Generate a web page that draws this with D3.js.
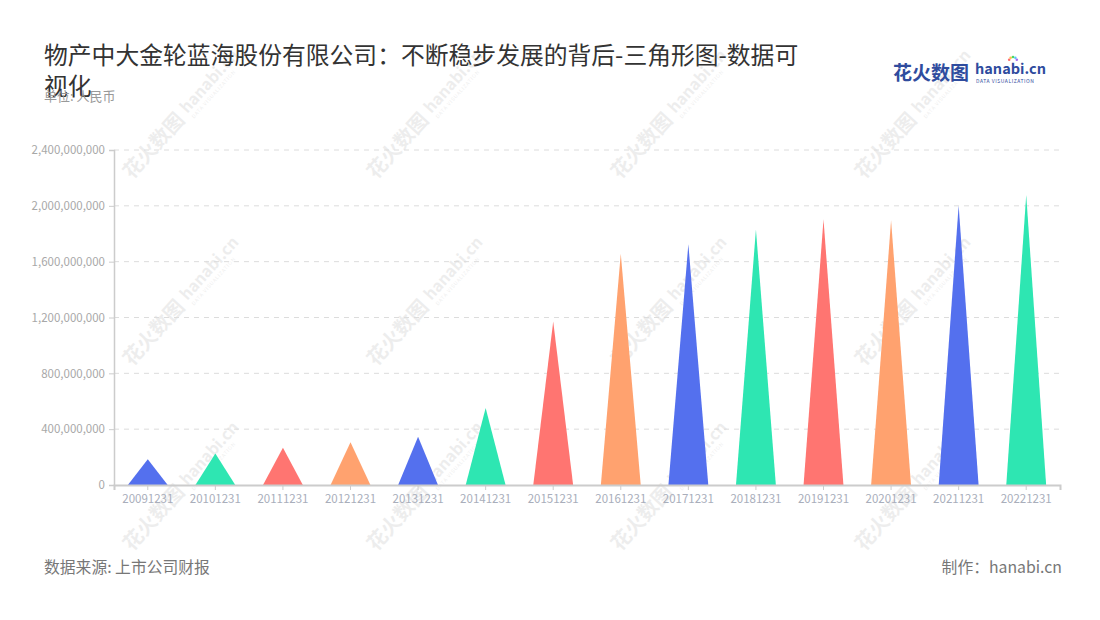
<!DOCTYPE html>
<html>
<head>
<meta charset="utf-8">
<script src="https://cdn.jsdelivr.net/npm/d3@7"></script>
<style>
  body { margin: 0; background: #fff; }
  svg text { font-family: "Noto Sans CJK SC", "Noto Sans", sans-serif; }
</style>
</head>
<body>
<div id="chart"></div>
<script>
// data
var dates = ["20091231", "20101231", "20111231", "20121231", "20131231", "20141231", "20151231",
             "20161231", "20171231", "20181231", "20191231", "20201231", "20211231", "20221231"];
var values = [184e6, 226e6, 267e6, 307e6, 346e6, 551e6, 1171e6,
              1657e6, 1725e6, 1831e6, 1903e6, 1896e6, 2003e6, 2077e6];
var yTicks = [0, 400e6, 800e6, 1200e6, 1600e6, 2000e6, 2400e6];
var palette = ["#5470ee", "#2ee6b2", "#ff7571", "#ffa26f"];

var width = 1100, height = 620;
var mLeft = 114, mRight = 1060, mTop = 150, mBottom = 485;

var svg = d3.select("#chart").append("svg")
    .attr("width", width)
    .attr("height", height);

// scales
var x = d3.scaleBand().domain(dates).range([mLeft, mRight]);
var y = d3.scaleLinear().domain([0, 2400e6]).range([mBottom, mTop]);

// watermarks
var wmX = [132, 376, 620, 864], wmY = [180, 367, 552];
wmY.forEach(function(wy) {
    wmX.forEach(function(wx) {
        var g = svg.append("g")
            .attr("transform", "translate(" + wx + "," + wy + ") rotate(-48)")
            .attr("fill", "#000")
            .attr("opacity", 0.065);
        g.append("text").attr("x", 0).attr("y", 0)
            .attr("font-size", 20).attr("font-weight", "bold").text("花火数图");
        g.append("text").attr("x", 86).attr("y", -3)
            .attr("font-size", 16).attr("font-weight", "bold").text("hanabi.cn");
        g.append("text").attr("x", 87).attr("y", 5)
            .attr("font-size", 5).attr("letter-spacing", 0.8).text("DATA VISUALIZATION");
    });
});

// gridlines
svg.append("g").selectAll("line")
    .data(yTicks.slice(1))
    .enter()
    .append("line")
    .attr("x1", mLeft).attr("x2", mRight)
    .attr("y1", function(d) { return y(d); })
    .attr("y2", function(d) { return y(d); })
    .attr("stroke", "#dcdcdc")
    .attr("stroke-dasharray", "5,5");

// y axis
var yAxis = svg.append("g")
    .attr("transform", "translate(" + mLeft + ",0)")
    .call(d3.axisLeft(y).tickValues(yTicks).tickFormat(d3.format(",")).tickSize(5).tickPadding(4));
yAxis.select(".domain").attr("stroke", "#cccccc").attr("stroke-width", 1.5);
yAxis.selectAll(".tick line").attr("stroke", "#cccccc");
yAxis.selectAll("text").attr("fill", "#a8a8a8").attr("font-size", 11.5);

// triangles
var half = x.bandwidth() * 0.295;
svg.append("g").selectAll("path")
    .data(dates)
    .enter()
    .append("path")
    .attr("d", function(d, i) {
        var cx = x(d) + x.bandwidth() / 2;
        return "M" + (cx - half) + "," + y(0) + "L" + cx + "," + y(values[i]) + "L" + (cx + half) + "," + y(0) + "Z";
    })
    .attr("fill", function(d, i) { return palette[i % palette.length]; });

// x axis
var xAxis = svg.append("g")
    .attr("transform", "translate(0," + mBottom + ")")
    .call(d3.axisBottom(x).tickSize(5).tickPadding(5));
xAxis.select(".domain").attr("stroke", "#cccccc").attr("stroke-width", 2);
xAxis.selectAll(".tick line").attr("stroke", "#cccccc");
xAxis.selectAll("text").attr("fill", "#a9aebb").attr("font-size", 11.5);

// title
var title = svg.append("text")
    .attr("fill", "#333")
    .attr("font-size", 23.8);
title.append("tspan").attr("x", 44).attr("y", 64)
    .text("物产中大金轮蓝海股份有限公司：不断稳步发展的背后-三角形图-数据可");
title.append("tspan").attr("x", 44).attr("y", 95).text("视化");

svg.append("text")
    .attr("x", 44).attr("y", 101)
    .attr("fill", "#999")
    .attr("font-size", 13)
    .text("单位: 人民币");

// logo
svg.append("text")
    .attr("x", 893).attr("y", 80)
    .attr("fill", "#2f4c9e")
    .attr("font-size", 19).attr("font-weight", "bold")
    .text("花火数图");
svg.append("text")
    .attr("x", 975).attr("y", 74)
    .attr("fill", "#2f4c9e")
    .attr("font-size", 14.5).attr("font-weight", "bold")
    .text("hanabi.cn");
svg.append("text")
    .attr("x", 976).attr("y", 82.5)
    .attr("fill", "#2f4c9e")
    .attr("font-size", 5).attr("letter-spacing", 0.55)
    .text("DATA VISUALIZATION");
var sparks = ["#ff6b6b", "#ffc14d", "#4cd964", "#5ac8fa", "#a56cf0"];
svg.append("g").selectAll("circle")
    .data(sparks)
    .enter()
    .append("circle")
    .attr("cx", function(d, i) { return 1013 + Math.cos(Math.PI * (1.1 + i * 0.2)) * 4; })
    .attr("cy", function(d, i) { return 61 + Math.sin(Math.PI * (1.1 + i * 0.2)) * 4; })
    .attr("r", 1.3)
    .attr("fill", function(d) { return d; });

// footer
svg.append("text")
    .attr("x", 44).attr("y", 573)
    .attr("fill", "#777")
    .attr("font-size", 15.8)
    .text("数据来源: 上市公司财报");
svg.append("text")
    .attr("x", 1062).attr("y", 573)
    .attr("text-anchor", "end")
    .attr("fill", "#777")
    .attr("font-size", 15.8)
    .text("制作：hanabi.cn");
</script>
</body>
</html>
